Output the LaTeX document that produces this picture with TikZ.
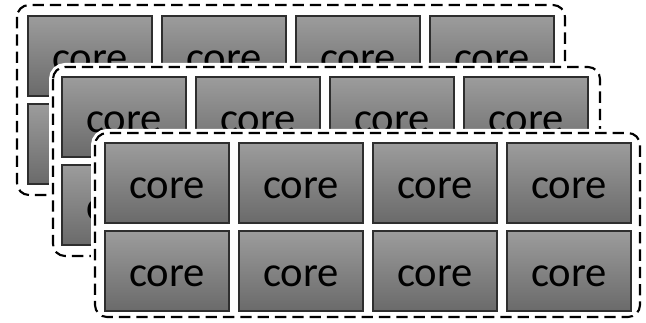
\documentclass[tikz,border=0pt]{standalone}
\usepackage{fontspec}
\setmainfont{Carlito}
\definecolor{coretop}{HTML}{9C9C9C}
\definecolor{corebot}{HTML}{6A6A6A}
\definecolor{coreline}{HTML}{2E2E2E}
\tikzset{
  corebox/.style={rectangle, draw=coreline, line width=1.1pt,
    top color=coretop, bottom color=corebot,
    minimum width=93pt, minimum height=60pt, inner sep=0pt,
    text height=23pt, text depth=0pt,
    font=\fontsize{32}{38}\selectfont},
  frame/.style={fill=white, rounded corners=9pt,
    preaction={draw=white, solid, line width=6pt},
    draw=black, line width=1.6pt, dash pattern=on 8.5pt off 4.5pt}
}
\begin{document}
\begin{tikzpicture}[x=0.75pt,y=-0.75pt]
\useasboundingbox (0,0) rectangle (646,323);
\foreach \l/\ox/\oy/\fa/\fb/\fc/\fd in {1/28/16/17/5/565/195, 2/62/77/53/67/600/256, 3/105/143/95/133/640/317}{
  \draw[frame] (\fa,\fb) rectangle (\fc,\fd);
  \foreach \r in {0,1}{
    \foreach \c in {0,...,3}{
      \node[corebox] (L\l-\r-\c) at ({\ox+62+134*\c},{\oy+40+88*\r}) {core};
    }
  }
}
\end{tikzpicture}
\end{document}
